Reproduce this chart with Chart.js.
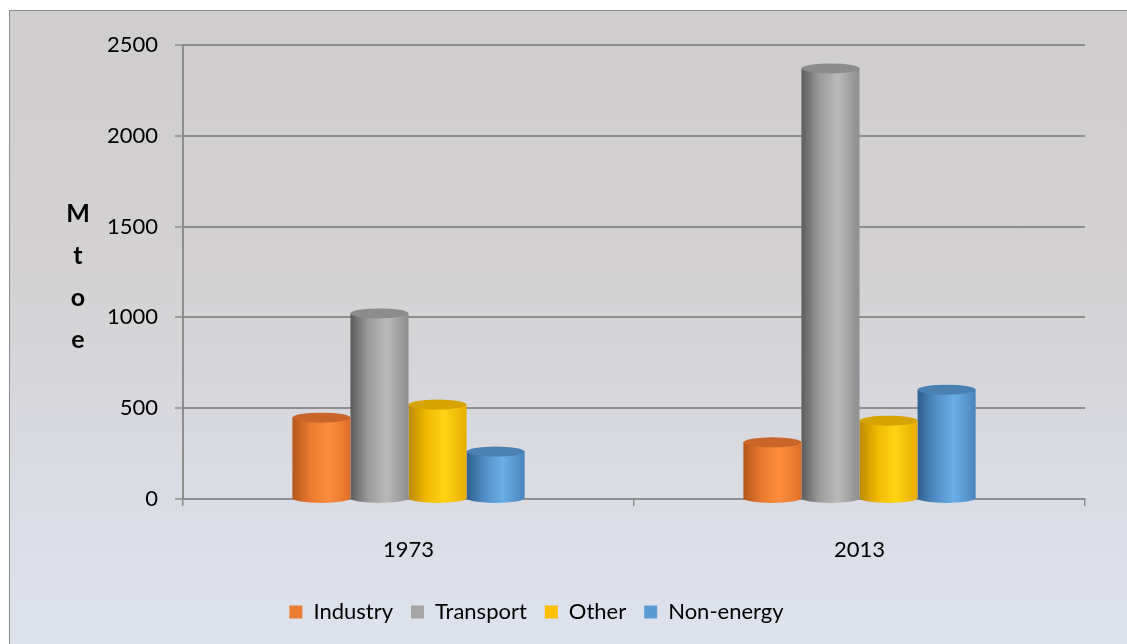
<!DOCTYPE html>
<html>
<head>
<meta charset="utf-8">
<script src="https://cdn.jsdelivr.net/npm/chart.js@4.4.1/dist/chart.umd.min.js"></script>
<style>
  html, body { margin: 0; padding: 0; width: 1127px; height: 644px; overflow: hidden; background: #ffffff; }
  #frame {
    position: absolute; left: 9px; top: 10px; width: 1130px; height: 650px;
    border-left: 1px solid #8c8c8c; border-top: 1px solid #8c8c8c;
    background: linear-gradient(to bottom, #d0cdcd 0%, #d3d1d2 40%, #d9dbe2 70%, #dee3ee 100%);
  }
  #wrap { position: absolute; left: 0; top: 0; width: 1127px; height: 644px; }
</style>
</head>
<body>
<div id="frame"></div>
<div id="wrap"><canvas id="c" width="1127" height="644"></canvas></div>
<script>
// ---- data ----
const categories = ['1973', '2013'];
const seriesNames = ['Industry', 'Transport', 'Other', 'Non-energy'];
const industry  = [448, 312];
const transport = [1022, 2371];
const other     = [520, 431];
const nonEnergy = [261, 602];
const yTicks = [0, 500, 1000, 1500, 2000, 2500];
const yTitleLetters = ['M', 't', 'o', 'e'];

// ---- styles ----
const baseColors = ['#ED7D31', '#A5A5A5', '#FFC000', '#5B9BD5'];
const shades = [
  ['#b4561c', '#e8782e', '#ff8f3d', '#e07028'],
  ['#5c5c5c', '#9a9a9a', '#bababa', '#8e8e8e'],
  ['#b98a00', '#f2b800', '#ffd413', '#e6ad00'],
  ['#2f5f8c', '#4f8cc4', '#6aafe8', '#4a84ba']
];
const capColors = ['#c9652a', '#8c8c8c', '#d6a300', '#4a80b2'];
const FONT = 'Lato, "Open Sans", sans-serif';

const values = [industry, transport, other, nonEnergy];

const cylinderPlugin = {
  id: 'cylinder',
  beforeDatasetsDraw(chart) {
    const ctx = chart.ctx;
    chart.data.datasets.forEach((ds, i) => {
      chart.getDatasetMeta(i).data.forEach(el => {
        const w = el.width, l = el.x - w / 2;
        const g = ctx.createLinearGradient(l, 0, l + w, 0);
        const s = shades[i];
        g.addColorStop(0, s[0]); g.addColorStop(0.3, s[1]);
        g.addColorStop(0.62, s[2]); g.addColorStop(1, s[3]);
        el.options = Object.assign({}, el.options, { backgroundColor: g });
        el._grad = g;
      });
    });
  },
  afterDatasetsDraw(chart) {
    const ctx = chart.ctx;
    const ry = 5;
    chart.data.datasets.forEach((ds, i) => {
      chart.getDatasetMeta(i).data.forEach(el => {
        const w = el.width, rx = w / 2;
        ctx.save();
        ctx.beginPath();
        ctx.ellipse(el.x, el.base, rx, ry, 0, 0, Math.PI);
        ctx.fillStyle = el._grad; ctx.fill();
        ctx.beginPath();
        ctx.ellipse(el.x, el.y, rx, ry, 0, 0, Math.PI * 2);
        ctx.fillStyle = capColors[i]; ctx.fill();
        ctx.restore();
      });
    });
  }
};

const legendShift = {
  id: 'legendShift',
  afterLayout(chart) {
    if (chart.legend) { chart.legend.left -= 6; chart.legend.right -= 6; }
  }
};

const yTitlePlugin = {
  id: 'yTitle',
  afterDraw(chart) {
    const ctx = chart.ctx;
    const ys = chart.scales.y;
    const mid = (ys.getPixelForValue(1000) + ys.getPixelForValue(1500)) / 2 + 5;
    ctx.save();
    ctx.font = 'bold 25px ' + FONT;
    ctx.fillStyle = '#000';
    ctx.textAlign = 'center';
    ctx.textBaseline = 'middle';
    const step = 42;
    const start = mid - step * (yTitleLetters.length - 1) / 2;
    yTitleLetters.forEach((ch, k) => ctx.fillText(ch, 78, start + k * step));
    ctx.restore();
  }
};

new Chart(document.getElementById('c'), {
  type: 'bar',
  data: {
    labels: categories,
    datasets: seriesNames.map((n, i) => ({
      label: n,
      data: values[i],
      backgroundColor: baseColors[i],
      borderWidth: 0,
      barPercentage: 1.0,
      categoryPercentage: 0.515
    }))
  },
  options: {
    responsive: false,
    animation: false,
    layout: { padding: { top: 45, right: 42, left: 0, bottom: 11 } },
    plugins: {
      tooltip: { enabled: false },
      legend: {
        position: 'bottom',
        labels: {
          boxWidth: 13, boxHeight: 13, padding: 18,
          color: '#000',
          font: { family: FONT, size: 22 }
        }
      }
    },
    scales: {
      y: {
        min: 0, max: 2500,
        afterFit(s) { s.width = 183; },
        afterBuildTicks(s) { s.ticks = yTicks.map(v => ({ value: v })); },
        grid: { color: '#8e8e8e', lineWidth: 2, tickLength: 8, tickColor: '#8e8e8e', tickWidth: 1.5 },
        border: { color: '#8e8e8e', width: 2 },
        ticks: { color: '#000', padding: 17, font: { family: FONT, size: 22 }, callback: v => String(v) }
      },
      x: {
        afterFit(s) { s.height = 84; },
        grid: { drawOnChartArea: false, drawTicks: true, tickLength: 7, color: '#8e8e8e', lineWidth: 1.5 },
        border: { color: '#8e8e8e', width: 2 },
        ticks: { color: '#000', padding: 31, font: { family: FONT, size: 22 } }
      }
    }
  },
  plugins: [cylinderPlugin, yTitlePlugin, legendShift]
});
</script>
</body>
</html>
